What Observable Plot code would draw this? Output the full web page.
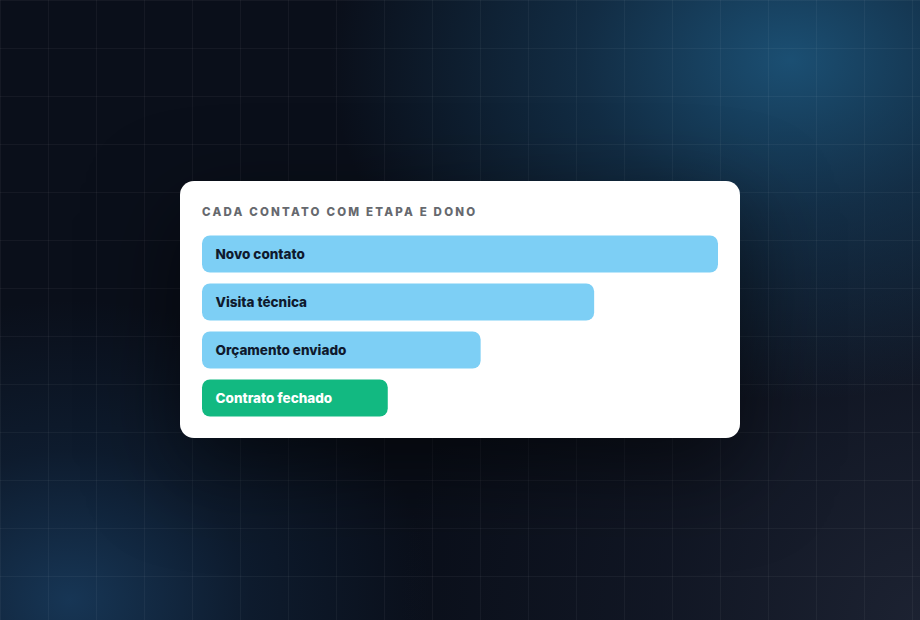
<!DOCTYPE html>
<html>
<head>
<meta charset="utf-8">
<script src="https://cdn.jsdelivr.net/npm/d3@7"></script>
<script src="https://cdn.jsdelivr.net/npm/@observablehq/plot@0.6"></script>
<style>
  html, body { margin: 0; padding: 0; }
  body {
    width: 920px; height: 620px; overflow: hidden; position: relative;
    background:
      linear-gradient(rgba(255,255,255,0.045) 1px, transparent 1px) 0 0 / 48px 48px,
      linear-gradient(90deg, rgba(255,255,255,0.045) 1px, transparent 1px) 0 0 / 48px 48px,
      radial-gradient(ellipse 460px 340px at 790px 60px, rgba(30,90,130,0.85) 0, rgba(26,74,110,0.5) 45%, rgba(20,50,80,0) 100%),
      radial-gradient(ellipse 360px 300px at 70px 600px, rgba(28,70,110,0.7) 0, rgba(22,55,90,0.3) 50%, rgba(20,40,70,0) 100%),
      radial-gradient(circle at 920px 620px, rgba(30,36,52,0.9) 0, rgba(24,30,46,0.5) 260px, rgba(20,24,36,0) 520px),
      #0a0f1a;
    font-family: Inter, "Noto Sans", sans-serif;
  }
  .card {
    position: absolute; left: 180px; top: 181px; width: 560px; height: 257px;
    background: #fff; border-radius: 14px;
    box-shadow: 0 30px 90px rgba(0,0,0,0.55);
  }
  .title {
    position: absolute; left: 22px; top: 24px;
    font-size: 11.5px; font-weight: 800; letter-spacing: 2.2px; color: #66696e;
  }
  #chart { position: absolute; left: 0; top: 0; }
</style>
</head>
<body>
<div class="card">
  <div class="title">CADA CONTATO COM ETAPA E DONO</div>
  <div id="chart"></div>
</div>
<script>
const stages = ["Novo contato", "Visita técnica", "Orçamento enviado", "Contrato fechado"];
const values = [100, 76, 54, 36];
const stageColors = ["#7dcff5", "#7dcff5", "#7dcff5", "#12b981"];
const labelColors = ["#0f1a2e", "#0f1a2e", "#0f1a2e", "#ffffff"];

const data = stages.map((s, i) => ({stage: s, value: values[i]}));

const chart = Plot.plot({
  width: 560,
  height: 257,
  marginLeft: 22,
  marginRight: 22,
  marginTop: 48.5,
  marginBottom: 16.5,
  style: {background: "transparent", overflow: "visible"},
  x: {domain: [0, 100], axis: null},
  y: {domain: stages, padding: 0, axis: null},
  color: {domain: stages, range: stageColors},
  marks: [
    Plot.barX(data, {x: "value", y: "stage", fill: "stage", rx: 8, insetTop: 5.5, insetBottom: 5.5}),
    Plot.text(data, {
      x: 0, y: "stage", text: "stage", dx: 13, textAnchor: "start",
      fill: d => labelColors[stages.indexOf(d.stage)],
      fontSize: 13.5, fontWeight: 800, fontFamily: "Inter, 'Noto Sans', sans-serif"
    })
  ]
});
document.getElementById("chart").appendChild(chart);
</script>
</body>
</html>
